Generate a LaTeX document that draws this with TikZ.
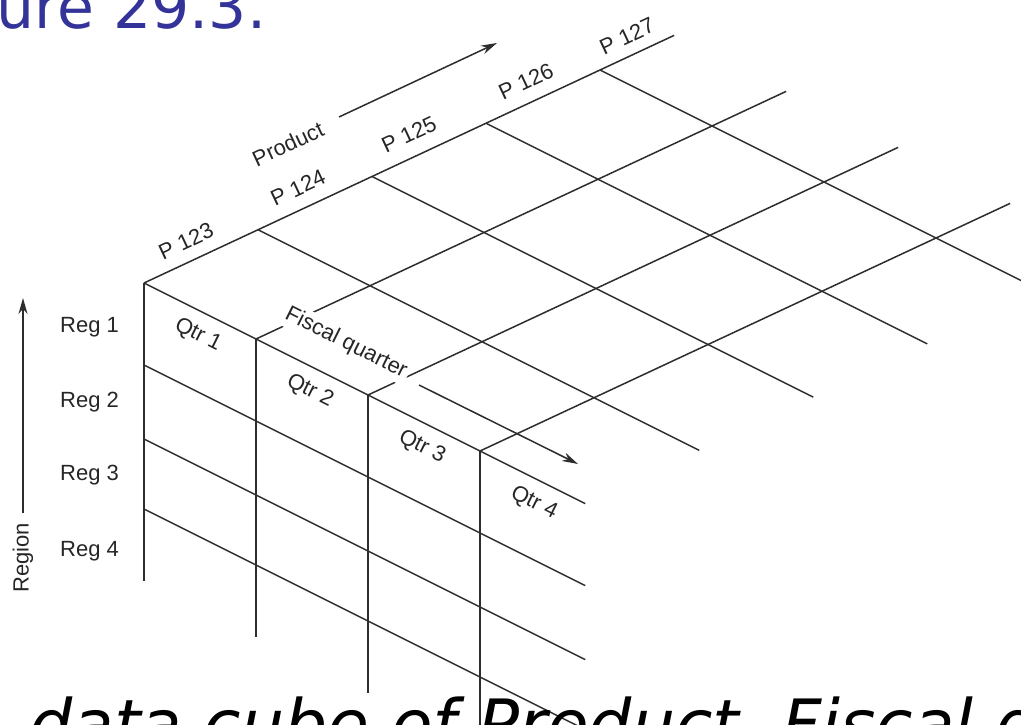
\documentclass[tikz,border=0pt]{standalone}
\usepackage{fontspec}
\setmainfont{Liberation Sans}
\newfontfamily\titlefont{DejaVu Sans}
\usetikzlibrary{calc,arrows.meta}
\definecolor{titleblue}{RGB}{51,51,153}
\definecolor{gridgray}{RGB}{45,45,45}
\begin{document}
\begin{tikzpicture}[x=1pt,y=-1pt,
  gridline/.style={draw=gridgray, line width=1.5pt},
  lbl/.style={font=\fontsize{22}{24}\selectfont, inner sep=1pt, text=black!85},
  axisarrow/.style={draw=gridgray, line width=1.5pt, -{Stealth[length=16pt,width=9pt]}},
]
\useasboundingbox (0,0) rectangle (1021,725);
\clip (0,0) rectangle (1021,725);
% basis
\coordinate (O) at (144,283);
\def\ux{114}\def\uy{-53.25}
\def\vx{112}\def\vy{56}
% product junctions on top edge
\foreach \k in {0,...,4}{
  \coordinate (T\k) at ($(O)+(\k*\ux,\k*\uy)$);
}
% front corners
\foreach \k in {0,...,3}{
  \coordinate (F\k) at ($(O)+(\k*\vx,\k*\vy)$);
}
% top face: product-direction lines
\foreach \k in {0,...,3}{
  \draw[gridline] (F\k) -- ($(F\k)+(4.65*\ux,4.65*\uy)$);
}
% top face: quarter-direction lines
\foreach \k in {0,...,4}{
  \draw[gridline] (T\k) -- ($(T\k)+(3.94*\vx,3.94*\vy)$);
}
% front face: verticals
\foreach \k in {0,...,3}{
  \draw[gridline] (F\k) -- ($(F\k)+(0,298)$);
}
% front face: region lines
\foreach \r in {82,156,226}{
  \draw[gridline] ($(O)+(0,\r)$) -- ($(O)+(0,\r)+(3.94*\vx,3.94*\vy)$);
}
% product labels
\foreach \k/\t/\dx/\dy in {0/P 123/42/-42,1/P 124/40/-42,2/P 125/37/-42,3/P 126/40/-42,4/P 127/27/-34}{
  \node[lbl, rotate=25.04] (pl\k) at ($(T\k)+(\dx,\dy)$) {\t};
}
\node[lbl, rotate=25.04] (prod) at (288,144) {Product};
\coordinate (pa1) at (339,117);
\coordinate (pa2) at (497,43);
\draw[axisarrow] (pa1) -- (pa2);
% quarter labels
\foreach \k/\t in {0/Qtr 1,1/Qtr 2,2/Qtr 3,3/Qtr 4}{
  \node[lbl, rotate=-26.57] (ql\k) at ($(F\k)+(0.5*\vx,0.5*\vy)+(-2,24)$) {\t};
}
\node[lbl, rotate=-26.57, fill=white, inner sep=3pt] (fq) at (346,343) {Fiscal quarter};
\coordinate (fa1) at (419,385);
\coordinate (fa2) at (578,464);
\draw[axisarrow] (fa1) -- (fa2);
% region labels
\foreach \y/\t in {327/Reg 1,402/Reg 2,475/Reg 3,551/Reg 4}{
  \node[lbl, anchor=west] (rl\y) at (59,\y) {\t};
}
\node[lbl, rotate=90] (reg) at (23,558) {Region};
\coordinate (ra1) at (23,513);
\coordinate (ra2) at (23,298);
\draw[axisarrow] (ra1) -- (ra2);
% slide title and caption (cropped by the frame)
\node[anchor=base west, inner sep=0pt, text=titleblue, font=\titlefont\fontsize{60}{60}\selectfont] (title) at (-89,29) {Figure 29.3.};
\node[anchor=base west, inner sep=0pt, text=black, font=\titlefont\itshape\fontsize{68}{68}\selectfont] (caption) at (29,748) {data cube of Product, Fiscal quarter, and Region};
\end{tikzpicture}
\end{document}
